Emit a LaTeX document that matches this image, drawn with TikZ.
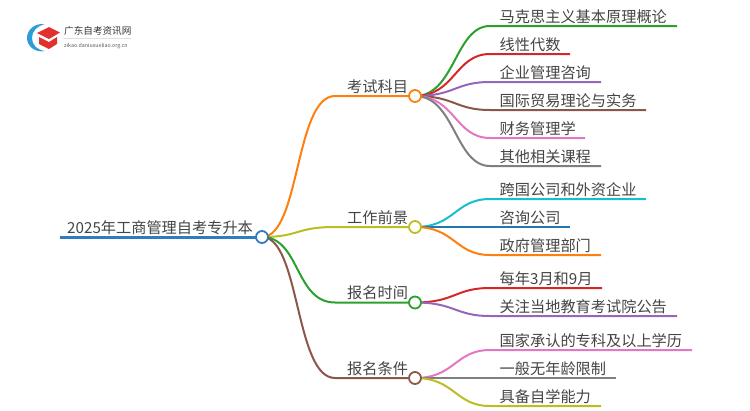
\documentclass[tikz,border=0pt]{standalone}
\usepackage{fontspec}
\setmainfont{Noto Sans CJK SC}
\definecolor{txtgray}{HTML}{444444}
\definecolor{cblue}{HTML}{2E7DBE}
\definecolor{corange}{HTML}{FF7F0E}
\definecolor{cgreen}{HTML}{2CA02C}
\definecolor{cred}{HTML}{D62728}
\definecolor{cpurple}{HTML}{9467BD}
\definecolor{cbrown}{HTML}{8C564B}
\definecolor{cpink}{HTML}{E377C2}
\definecolor{cgray}{HTML}{7F7F7F}
\definecolor{colive}{HTML}{BCBD22}
\definecolor{ccyan}{HTML}{17BECF}
\definecolor{cdeep}{HTML}{1F77B4}
\definecolor{logoblue}{HTML}{2F9BD8}
\definecolor{logored}{HTML}{E0312F}
\tikzset{
    branch/.style={line width=2pt},
    knob/.style={circle, draw=#1, fill=white, line width=1.8pt, minimum size=12pt, inner sep=0pt},
    caption/.style={text=txtgray, inner sep=0pt, font=\fontsize{15.2pt}{17pt}\selectfont, anchor=base west},
}
\begin{document}
\begin{tikzpicture}[x=1pt, y=-1pt]
        \useasboundingbox (0, 0) rectangle (750, 410);
        \def\leaf(#1,#2,#3,#4,#5,#6,#7){
            \coordinate(#3s) at (490, #4);
            \coordinate(#3e) at (#5, #4);
            \node[caption] (#3t) at (499.5, #4-3.7) {#6};
            \draw[branch, #7] (#1) .. controls (455, #2) and (455, #4) .. (#3s) -- (#3e);
        }
        % logo
        \fill[logoblue] (45, 24) .. controls (33, 23) and (27, 31) .. (27, 38)
            .. controls (27, 46) and (35, 53) .. (45, 51)
            .. controls (37, 50) and (32, 45) .. (32, 38)
            .. controls (32, 31) and (37, 26) .. (45, 24) -- cycle;
        \fill[logored] (37, 33) -- (49, 27) -- (60, 32.5) -- (49, 39) -- cycle;
        \fill[logored] (39, 37) -- (49, 42) -- (57, 37) -- (57, 44) -- (49, 49) -- (39, 44) -- cycle;
        \node[text=black!80, inner sep=0pt, anchor=west, font=\fontsize{9.6pt}{10pt}\selectfont] (logotitle) at (64, 31) {广东自考资讯网};
        \node[text=black!65, inner sep=0pt, anchor=west, font=\fontsize{5.3pt}{6pt}\selectfont] (logourl) at (64, 46.5) {zikao.daniuxueliao.org.cn};
        \draw[black!12, line width=0.5pt] (logotitle.south west)+(0, 3) -- +(67, 3);

        % root
        \coordinate(root) at (262, 237);
        \coordinate(rootw) at (60, 237);
        \coordinate(exam) at (415, 96);
        \coordinate(job) at (415, 227);
        \coordinate(date) at (415, 302.5);
        \coordinate(cond) at (415, 378);
        \node[caption] (roott) at (67, 233.3) {2025年工商管理自考专升本};

        \draw[branch, corange] (root) .. controls (300, 237) and (295, 96) .. (335, 96) -- (exam);
        \draw[branch, colive] (root) .. controls (300, 237) and (295, 227) .. (335, 227) -- (job);
        \draw[branch, cgreen] (root) .. controls (300, 237) and (295, 302.5) .. (335, 302.5) -- (date);
        \draw[branch, cbrown] (root) .. controls (300, 237) and (295, 378) .. (335, 378) -- (cond);
        \draw[cblue, line width=3pt] (rootw) -- (root);
        \node[knob=cblue] (rootk) at (root) {};

        \node[caption] (examt) at (347, 92.3) {考试科目};
        \node[caption] (jobt) at (347, 223.3) {工作前景};
        \node[caption] (datet) at (347, 298.8) {报名时间};
        \node[caption] (condt) at (347, 374.3) {报名条件};

        \leaf(exam,96,a,26,677,马克思主义基本原理概论,cgreen)
        \leaf(exam,96,b,54,570,线性代数,cred)
        \leaf(exam,96,c,82,601,企业管理咨询,cpurple)
        \leaf(exam,96,d,110,646,国际贸易理论与实务,cbrown)
        \leaf(exam,96,e,138,585,财务管理学,cpink)
        \leaf(exam,96,f,166,601,其他相关课程,cgray)
        \leaf(job,227,g,199,646,跨国公司和外资企业,ccyan)
        \leaf(job,227,h,227,570,咨询公司,cdeep)
        \leaf(job,227,i,255,601,政府管理部门,corange)
        \leaf(date,302.5,j,288,602,每年3月和9月,cred)
        \leaf(date,302.5,k,316,677,关注当地教育考试院公告,cpurple)
        \leaf(cond,378,l,350,692,国家承认的专科及以上学历,cpink)
        \leaf(cond,378,m,378,616,一般无年龄限制,cgray)
        \leaf(cond,378,n,406,601,具备自学能力,colive)

        \node[knob=corange] (examk) at (exam) {};
        \node[knob=colive] (jobk) at (job) {};
        \node[knob=cgreen] (datek) at (date) {};
        \node[knob=cbrown] (condk) at (cond) {};
    \end{tikzpicture}
\end{document}
